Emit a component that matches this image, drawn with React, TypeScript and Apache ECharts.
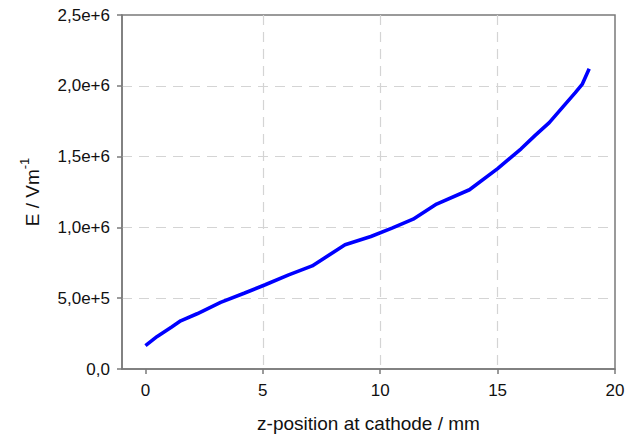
import React, { useEffect, useRef } from "react";
import * as echarts from "echarts";

const zPositions = [0, 0.5, 1.1, 1.5, 2.2, 3.2, 4.2, 5.1, 6.1, 7.1, 8.5, 9.6, 10.5, 11.4, 12.4, 13.8, 15.0, 16.0, 16.6, 17.2, 17.8, 18.3, 18.6, 18.9];
const fieldValues = [0.165e6, 0.23e6, 0.295e6, 0.34e6, 0.39e6, 0.47e6, 0.535e6, 0.595e6, 0.665e6, 0.728e6, 0.877e6, 0.936e6, 0.995e6, 1.058e6, 1.165e6, 1.266e6, 1.415e6, 1.555e6, 1.65e6, 1.74e6, 1.855e6, 1.95e6, 2.01e6, 2.12e6];
const xTicks = [0, 5, 10, 15, 20];

const FONT = "'Liberation Sans', Arial, sans-serif";

export default function App() {
  const ref = useRef<HTMLDivElement>(null);
  useEffect(() => {
    if (!ref.current) return;
    const chart = echarts.init(ref.current, undefined, { renderer: "svg" });
    const axisColor = "#7a7a7a";
    const gridColor = "#d4d4d4";
    chart.setOption({
      animation: false,
      backgroundColor: "#ffffff",
      grid: {
        left: 122,
        right: 11,
        top: 15,
        bottom: 65,
        outerBoundsMode: "none",
        containLabel: false,
        show: true,
        borderColor: axisColor,
        borderWidth: 1.5,
        backgroundColor: "transparent",
      },
      xAxis: {
        type: "value",
        min: -1,
        max: 20,
        name: "z-position at cathode / mm",
        nameLocation: "middle",
        nameGap: 45,
        nameTextStyle: { fontFamily: FONT, fontSize: 19, color: "#111" },
        axisLine: { show: true, onZero: false, lineStyle: { color: axisColor, width: 1.5 } },
        axisTick: { show: true, length: 5, customValues: xTicks, lineStyle: { color: axisColor, width: 1.5 } },
        axisLabel: {
          customValues: xTicks,
          margin: 13,
          fontFamily: FONT,
          fontSize: 17,
          color: "#111",
        },
        splitLine: {
          show: true,
          showMinLine: false,
          showMaxLine: false,
          customValues: xTicks,
          lineStyle: { color: gridColor, type: [10, 7], width: 1.2 },
        },
      },
      yAxis: {
        type: "value",
        min: 0,
        max: 2.5e6,
        interval: 5e5,
        name: "{a|E / Vm}{b|-1}",
        nameLocation: "middle",
        nameRotate: 90,
        nameGap: 80,
        nameTextStyle: {
          fontFamily: FONT,
          color: "#111",
          rich: {
            a: { fontFamily: FONT, fontSize: 19, color: "#111", lineHeight: 24, verticalAlign: "bottom" },
            b: { fontFamily: FONT, fontSize: 13, color: "#111", lineHeight: 24, verticalAlign: "top", padding: [0, 0, 9, 0] },
          },
        },
        axisLine: { show: true, onZero: false, lineStyle: { color: axisColor, width: 1.5 } },
        axisTick: { show: true, length: 5, lineStyle: { color: axisColor, width: 1.5 } },
        axisLabel: {
          margin: 12,
          fontFamily: FONT,
          fontSize: 17,
          color: "#111",
          formatter: (v: number) => (v === 0 ? "0,0" : v.toExponential(1).replace(".", ",")),
        },
        splitLine: {
          show: true,
          showMinLine: false,
          showMaxLine: false,
          lineStyle: { color: gridColor, type: [10, 7], width: 1.2 },
        },
      },
      series: [
        {
          type: "line",
          data: zPositions.map((z, i) => [z, fieldValues[i]]),
          showSymbol: false,
          smooth: false,
          lineStyle: { color: "#0000ff", width: 3.6 },
        },
      ],
    });
    return () => chart.dispose();
  }, []);
  return <div ref={ref} style={{ position: "fixed", left: 0, top: 0, width: 626, height: 434 }} />;
}
